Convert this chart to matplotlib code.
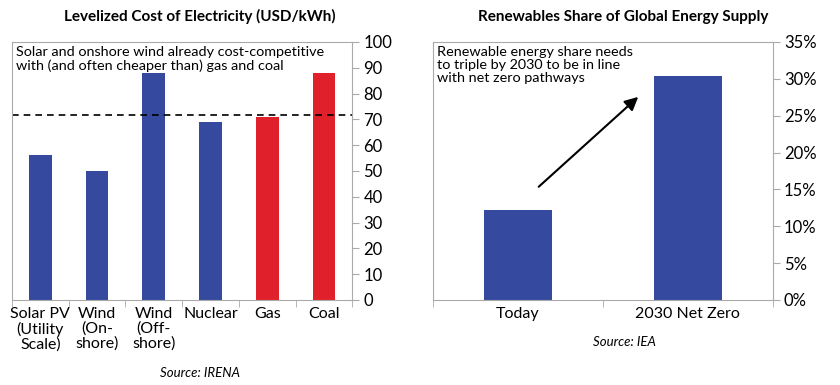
import matplotlib.pyplot as plt
from matplotlib.ticker import FuncFormatter

plt.rcParams['font.family'] = ['Lato', 'DejaVu Sans']

# LCOE data
lcoe_cats = ["Solar PV\n(Utility\nScale)", "Wind\n(On-\nshore)", "Wind\n(Off-\nshore)",
             "Nuclear", "Gas", "Coal"]
lcoe_vals = [56, 50, 88, 69, 71, 88]
lcoe_cols = ["#354a9f", "#354a9f", "#354a9f", "#354a9f", "#e0202a", "#e0202a"]
gas_line = 71.5

# Renewables share data
share_cats = ["Today", "2030 Net Zero"]
share_vals = [12.2, 30.4]

blue = "#354a9f"
grey = "#aaaaaa"

fig = plt.figure(figsize=(8.4, 3.85), dpi=100)
ax1 = fig.add_axes([0.0143, 0.221, 0.405, 0.670])
ax2 = fig.add_axes([0.5155, 0.221, 0.4045, 0.670])


def style(ax):
    for s in ax.spines.values():
        s.set_color(grey)
    ax.yaxis.tick_right()
    ax.tick_params(axis='y', which='major', length=5, color=grey, labelsize=12, pad=3)
    ax.tick_params(axis='x', which='major', length=0, labelsize=11.5, pad=5)
    ax.tick_params(axis='x', which='minor', length=5, color=grey)


# left chart
x1 = range(len(lcoe_cats))
ax1.bar(x1, lcoe_vals, width=0.4, color=lcoe_cols)
ax1.axhline(gas_line, color="black", ls=(0, (4, 3)), lw=1.2)
ax1.set_xlim(-0.5, len(lcoe_cats) - 0.5)
ax1.set_ylim(0, 100)
ax1.set_yticks(range(0, 101, 10))
ax1.set_xticks(list(x1))
ax1.set_xticklabels(lcoe_cats, linespacing=1.05, va='top')
ax1.set_xticks([i - 0.5 for i in range(len(lcoe_cats) + 1)], minor=True)
style(ax1)
ax1.set_title("Levelized Cost of Electricity (USD/kWh)", fontsize=11,
              fontweight='bold', pad=15, x=0.553)
ax1.text(0.013, 0.985, "Solar and onshore wind already cost-competitive\n"
         "with (and often cheaper than) gas and coal",
         transform=ax1.transAxes, ha='left', va='top', fontsize=10.4, linespacing=1.12)
fig.text(0.238, 0.022, "Source: IRENA", ha='center', fontsize=9.5, style='italic')

# right chart
x2 = range(len(share_cats))
ax2.bar(x2, share_vals, width=0.4, color=blue)
ax2.set_xlim(-0.5, len(share_cats) - 0.5)
ax2.set_ylim(0, 35)
ax2.set_yticks(range(0, 36, 5))
ax2.yaxis.set_major_formatter(FuncFormatter(lambda v, p: f"{v:.0f}%"))
ax2.set_xticks(list(x2))
ax2.set_xticklabels(share_cats)
ax2.set_xticks([i - 0.5 for i in range(len(share_cats) + 1)], minor=True)
style(ax2)
ax2.set_title("Renewables Share of Global Energy Supply", fontsize=11,
              fontweight='bold', pad=15, x=0.559)
ax2.text(0.013, 0.985, "Renewable energy share needs\nto triple by 2030 to be in line\n"
         "with net zero pathways",
         transform=ax2.transAxes, ha='left', va='top', fontsize=10.4, linespacing=1.12)
ax2.annotate("", xy=(0.72, 27.8), xytext=(0.11, 15.1),
             arrowprops=dict(arrowstyle="-|>,head_length=0.8,head_width=0.4",
                             color="black", lw=1.5))
fig.text(0.743, 0.1, "Source: IEA", ha='center', fontsize=9.5, style='italic')

fig.savefig("out.png", dpi=100)
